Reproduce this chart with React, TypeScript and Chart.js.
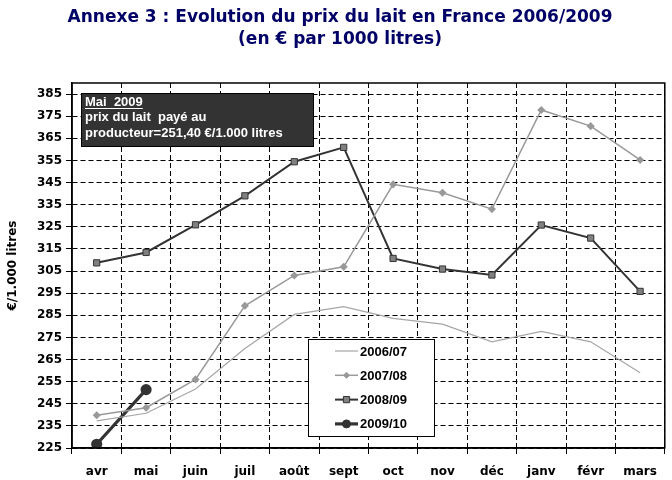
import React, { useRef, useEffect } from "react";
import { Chart, registerables } from "chart.js";

Chart.register(...registerables);

const months = ["avr", "mai", "juin", "juil", "août", "sept", "oct", "nov", "déc", "janv", "févr", "mars"];

const prix2006 = [237.3, 240.7, 251.7, 270, 285.4, 288.9, 283.6, 281, 273, 277.7, 273, 259];
const prix2007 = [239.8, 243.2, 256, 289.3, 303, 306.9, 344.2, 340.4, 333, 377.8, 370.5, 355.2];
const prix2008 = [308.7, 313.4, 325.9, 339, 354.4, 360.9, 310.7, 305.9, 303.2, 325.8, 319.9, 295.8];
const prix2009 = [226.7, 251.4, null, null, null, null, null, null, null, null, null, null];

const yTicks = [225, 235, 245, 255, 265, 275, 285, 295, 305, 315, 325, 335, 345, 355, 365, 375, 385];

const titleLines = ["Annexe 3 : Evolution du prix du lait en France 2006/2009", "(en € par 1000 litres)"];
const noteLines = ["Mai  2009", "prix du lait  payé au", "producteur=251,40 €/1.000 litres"];

const textFont = "bold 13px 'Liberation Sans', Arial, sans-serif";
const axisFont = { family: "'DejaVu Sans', Verdana, sans-serif", size: 12, weight: "bold" };

// titles, frame, note box and legend box
const decorPlugin = {
  id: "decor",
  afterDraw(chart: Chart) {
    const { ctx, chartArea } = chart;
    const { left, right, top, bottom } = chartArea;
    ctx.save();

    ctx.fillStyle = "#000066";
    ctx.font = "bold 17px 'DejaVu Sans', Verdana, sans-serif";
    ctx.textAlign = "center";
    ctx.textBaseline = "middle";
    ctx.fillText(titleLines[0], 340, 18);
    ctx.fillText(titleLines[1], 340, 40);

    ctx.strokeStyle = "#000";
    ctx.lineWidth = 1.5;
    ctx.setLineDash([]);
    ctx.strokeRect(left, top, right - left, bottom - top);

    // note box
    ctx.fillStyle = "#333333";
    ctx.fillRect(81, 93, 232, 53);
    ctx.lineWidth = 1;
    ctx.strokeRect(81.5, 93.5, 232, 53);
    ctx.fillStyle = "#fff";
    ctx.font = textFont;
    ctx.textAlign = "left";
    noteLines.forEach((line, i) => ctx.fillText(line, 85, 102 + i * 15.7));
    const w = ctx.measureText(noteLines[0]).width;
    ctx.strokeStyle = "#fff";
    ctx.beginPath();
    ctx.moveTo(85, 108.5);
    ctx.lineTo(85 + w, 108.5);
    ctx.stroke();

    // legend box
    ctx.fillStyle = "#fff";
    ctx.fillRect(308, 339, 126, 97);
    ctx.strokeStyle = "#000";
    ctx.lineWidth = 1;
    ctx.strokeRect(308.5, 339.5, 126, 97);
    chart.data.datasets.forEach((ds: any, i: number) => {
      const y = 351 + i * 24.3;
      ctx.strokeStyle = ds.borderColor;
      ctx.lineWidth = ds.borderWidth;
      ctx.beginPath();
      ctx.moveTo(335, y);
      ctx.lineTo(358, y);
      ctx.stroke();
      if (ds.pointRadius > 0) {
        ctx.fillStyle = ds.pointBackgroundColor;
        ctx.strokeStyle = ds.pointBorderColor;
        ctx.lineWidth = 1;
        const r = ds.pointRadius;
        const cx = 346.5;
        ctx.beginPath();
        if (ds.pointStyle === "rect") {
          const s = r * Math.SQRT1_2;
          ctx.rect(cx - s, y - s, 2 * s, 2 * s);
        } else if (ds.pointStyle === "rectRot") {
          ctx.moveTo(cx, y - r);
          ctx.lineTo(cx + r, y);
          ctx.lineTo(cx, y + r);
          ctx.lineTo(cx - r, y);
          ctx.closePath();
        } else {
          ctx.arc(cx, y, r, 0, Math.PI * 2);
        }
        ctx.fill();
        ctx.stroke();
      }
      ctx.fillStyle = "#000";
      ctx.font = textFont;
      ctx.textAlign = "left";
      ctx.fillText(ds.label, 360, y + 1);
    });
    ctx.restore();
  },
};

const MilkPriceChart: React.FC = () => {
  const canvasRef = useRef<HTMLCanvasElement | null>(null);
  const chartRef = useRef<Chart | null>(null);

  useEffect(() => {
    document.body.style.margin = "0";
    if (!canvasRef.current) return;
    if (chartRef.current) chartRef.current.destroy();

    chartRef.current = new Chart(canvasRef.current, {
      type: "line",
      data: {
        labels: months,
        datasets: [
          {
            label: "2006/07",
            data: prix2006,
            borderColor: "#a6a6a6",
            borderWidth: 1.2,
            pointRadius: 0,
            pointStyle: "circle",
            pointBackgroundColor: "#a6a6a6",
            pointBorderColor: "#a6a6a6",
            tension: 0,
          },
          {
            label: "2007/08",
            data: prix2007,
            borderColor: "#999999",
            borderWidth: 1.5,
            pointRadius: 3,
            pointStyle: "rectRot",
            pointBackgroundColor: "#999999",
            pointBorderColor: "#999999",
            tension: 0,
          },
          {
            label: "2008/09",
            data: prix2008,
            borderColor: "#333333",
            borderWidth: 2,
            pointRadius: 4.4,
            pointStyle: "rect",
            pointBackgroundColor: "#808080",
            pointBorderColor: "#333333",
            pointBorderWidth: 1,
            tension: 0,
          },
          {
            label: "2009/10",
            data: prix2009,
            borderColor: "#333333",
            borderWidth: 3.2,
            pointRadius: 4,
            pointStyle: "circle",
            pointBackgroundColor: "#333333",
            pointBorderColor: "#333333",
            tension: 0,
          },
        ],
      },
      options: {
        responsive: false,
        animation: false,
        layout: { padding: { top: 83, right: 5, left: 0, bottom: 0 } },
        plugins: {
          legend: { display: false },
          tooltip: { enabled: false },
        },
        scales: {
          x: {
            offset: true,
            grid: {
              offset: true,
              color: "#000",
              lineWidth: 1,
              drawTicks: true,
              tickLength: 6,
              tickColor: "#000",
            },
            border: { display: true, color: "#000", width: 1.5, dash: [5, 3] },
            ticks: {
              color: "#000",
              padding: 11,
              font: axisFont,
              maxRotation: 0,
            },
            afterFit: (scale: any) => {
              scale.height = 32;
            },
          },
          y: {
            min: 225,
            max: 390,
            afterBuildTicks: (scale: any) => {
              scale.ticks = yTicks.map((v) => ({ value: v }));
            },
            grid: {
              color: "#000",
              lineWidth: 1,
              drawTicks: true,
              tickLength: 6,
              tickColor: "#000",
            },
            border: { display: true, color: "#000", width: 1.5, dash: [5, 3] },
            ticks: {
              color: "#000",
              padding: 4,
              font: axisFont,
            },
            title: {
              display: true,
              text: "€/1.000 litres",
              color: "#000",
              padding: { top: 6, bottom: 0 },
              font: axisFont,
            },
            afterFit: (scale: any) => {
              scale.width = 72;
            },
          },
        },
      },
      plugins: [decorPlugin],
    } as any);

    return () => {
      if (chartRef.current) {
        chartRef.current.destroy();
        chartRef.current = null;
      }
    };
  }, []);

  return (
    <div style={{ width: 672, height: 480 }}>
      <canvas ref={canvasRef} width={672} height={480}></canvas>
    </div>
  );
};

export default function App() {
  return <MilkPriceChart />;
}
